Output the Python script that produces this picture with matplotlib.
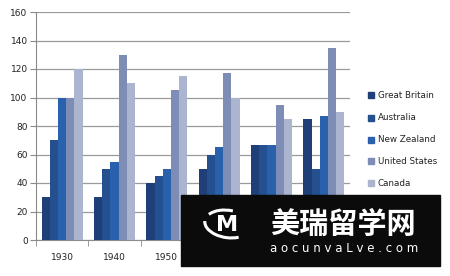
import matplotlib
matplotlib.use("Agg")
import matplotlib.pyplot as plt
import numpy as np
from matplotlib.patches import Rectangle, Arc

years = ["1930", "1940", "1950", "1960", "1970", "1980"]
series_names = ["Great Britain", "Australia", "New Zealand", "United States", "Canada"]
great_britain = [30, 30, 40, 50, 67, 85]
australia = [70, 50, 45, 60, 67, 50]
new_zealand = [100, 55, 50, 65, 67, 87]
united_states = [100, 130, 105, 117, 95, 135]
canada = [120, 110, 115, 100, 85, 90]
values = [great_britain, australia, new_zealand, united_states, canada]
colors = ["#1e3f78", "#24508f", "#2a61ad", "#7d8db5", "#abb5cf"]

W, H = 450, 276
fig = plt.figure(figsize=(W / 100, H / 100), dpi=100)
ax = fig.add_axes([36 / W, 1 - 240 / H, (350 - 36) / W, (240 - 12) / H])

x = np.arange(len(years))
bw = 0.157
for i, (vals, c) in enumerate(zip(values, colors)):
    ax.bar(x + (i - 2) * bw, vals, width=bw, color=c, zorder=3, linewidth=0)

ax.set_xlim(-0.5, len(years) - 0.5)
ax.set_ylim(0, 160)
ax.set_yticks(range(0, 161, 20))
ax.yaxis.grid(True, color="#9a9a9a", linewidth=0.9, zorder=0)
for s in ["top", "right"]:
    ax.spines[s].set_visible(False)
ax.spines["left"].set_color("#8a8a8a")
ax.spines["bottom"].set_color("#8a8a8a")
ax.tick_params(axis="y", length=4, color="#8a8a8a", labelsize=6.5, labelcolor="#222222", pad=2)
ax.set_xticks(x)
ax.set_xticklabels(years)
ax.tick_params(axis="x", length=0, labelsize=6.5, labelcolor="#222222", pad=9)
ax.set_xticks(np.arange(-0.5, len(years), 1.0), minor=True)
ax.tick_params(axis="x", which="minor", length=4, color="#8a8a8a")

# legend
leg_y = [95, 117.5, 139.5, 161, 183]
for name, c, yy in zip(series_names, colors, leg_y):
    fig.patches.append(Rectangle((368 / W, 1 - (yy + 3) / H), 6 / W, 6 / H,
                                 transform=fig.transFigure, color=c, figure=fig))
    fig.text(378 / W, 1 - yy / H, name, fontsize=6.3, color="#222222", va="center", ha="left")

# watermark overlay
fig.patches.append(Rectangle((181 / W, 1 - 266 / H), (440 - 181) / W, (266 - 195) / H,
                             transform=fig.transFigure, color="#0b0b0b", figure=fig, zorder=10))
fig.text(227 / W, 1 - 225 / H, "M", fontsize=16, fontweight="bold", color="white",
         ha="center", va="center", zorder=11, family="DejaVu Sans")
arc_ax = fig.add_axes([203 / W, 1 - 242 / H, 50 / W, 36 / H])
arc_ax.set_xlim(-1, 1); arc_ax.set_ylim(-1, 1); arc_ax.axis("off"); arc_ax.set_zorder(12)
arc_ax.add_patch(Arc((0, 0), 1.9, 1.5, angle=-20, theta1=190, theta2=320, color="white", lw=2.2))
arc_ax.add_patch(Arc((0, 0), 1.9, 1.5, angle=-20, theta1=95, theta2=165, color="white", lw=2.2))
fig.text(343 / W, 1 - 224 / H, "美瑞留学网", fontsize=21, fontweight="bold", color="white",
         ha="center", va="center", zorder=11, family=["Noto Sans CJK SC", "DejaVu Sans"])
fig.text(344 / W, 1 - 249 / H, "a o c u n v a L v e . c o m", fontsize=8.5, color="white",
         ha="center", va="center", zorder=11, family="DejaVu Sans")

fig.savefig("out.png", dpi=100)
